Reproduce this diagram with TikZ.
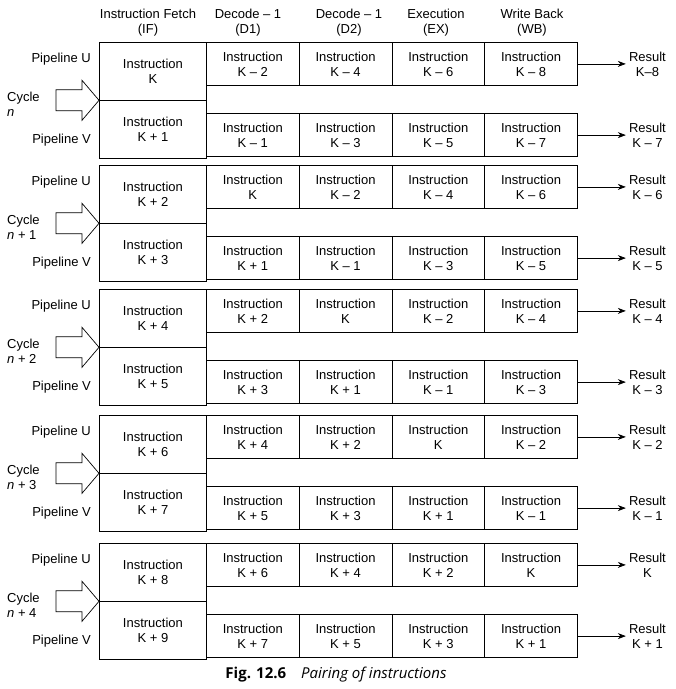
\documentclass[tikz,border=0pt]{standalone}
\usepackage{fontspec}
\setmainfont{Liberation Sans}
\newfontfamily\capfont{Open Sans}
\usetikzlibrary{arrows.meta, positioning}

\begin{document}
\begin{tikzpicture}[x=1pt, y=-1pt,
    cell/.style={draw, line width=0.8pt, minimum width=92.75pt, minimum height=43pt, inner sep=0pt, align=center, font=\fontsize{13}{15}\selectfont},
    fetch/.style={cell, minimum width=107pt, minimum height=57.5pt},
    lbl/.style={inner sep=0pt, align=center, font=\fontsize{13}{15}\selectfont},
    arrow/.style={-{Stealth[length=8pt, width=6pt]}, line width=0.7pt},
]
    \useasboundingbox (0,0) rectangle (676,689);

    % stage headings
    \foreach \x/\h [count=\j] in {148/{Instruction Fetch\\(IF)}, 248/{Decode -- 1\\(D1)}, 349/{Decode -- 1\\(D2)}, 436/{Execution\\(EX)}, 532/{Write Back\\(WB)}}
        \node[lbl] (h\j) at (\x,23) {\h};

    % one block per cycle
    \foreach \t/\cy/\fu/\fv/\ul/\vl/\ru/\rv [count=\i] in {
        42/{\textit{n}}/K/K + 1/{K -- 2,K -- 4,K -- 6,K -- 8}/{K -- 1,K -- 3,K -- 5,K -- 7}/K--8/K -- 7,
        165/{\textit{n} + 1}/K + 2/K + 3/{K,K -- 2,K -- 4,K -- 6}/{K + 1,K -- 1,K -- 3,K -- 5}/K -- 6/K -- 5,
        289/{\textit{n} + 2}/K + 4/K + 5/{K + 2,K,K -- 2,K -- 4}/{K + 3,K + 1,K -- 1,K -- 3}/K -- 4/K -- 3,
        415/{\textit{n} + 3}/K + 6/K + 7/{K + 4,K + 2,K,K -- 2}/{K + 5,K + 3,K + 1,K -- 1}/K -- 2/K -- 1,
        543/{\textit{n} + 4}/K + 8/K + 9/{K + 6,K + 4,K + 2,K}/{K + 7,K + 5,K + 3,K + 1}/K/K + 1}{
        \node[fetch, anchor=north west] (f\i u) at (99,\t) {Instruction\\\fu};
        \node[fetch, anchor=north west] (f\i v) at (f\i u.south west) {Instruction\\\fv};
        \foreach \s [count=\j] in \ul
            \node[cell, anchor=north west] (s\i u\j) at ({206+92.75*(\j-1)},\t) {Instruction\\\s};
        \foreach \s [count=\j] in \vl
            \node[cell, anchor=south west] (s\i v\j) at ({206+92.75*(\j-1)},\t+115) {Instruction\\\s};

        \node[lbl, anchor=east] (pu\i) at (91,\t+17) {Pipeline U};
        \node[lbl, anchor=east] (pv\i) at (91,\t+98) {Pipeline V};
        \node[lbl, anchor=west, align=left] (c\i) at (7,\t+62) {Cycle\\\cy};

        % big cycle arrow into the fetch stage
        \draw[line width=0.7pt] (f\i u.south west) -- ++(-17,-20) -- ++(0,9.5) -- ++(-26,0) -- ++(0,21)
            -- ++(26,0) -- ++(0,9.5) -- cycle;

        \node[lbl, inner sep=3pt, right=48pt of s\i u4] (r\i u) {Result\\\ru};
        \node[lbl, inner sep=3pt, right=48pt of s\i v4] (r\i v) {Result\\\rv};
        \draw[arrow] (s\i u4.east) -- (s\i u4.east -| r\i u.west);
        \draw[arrow] (s\i v4.east) -- (s\i v4.east -| r\i v.west);
    }

    \node[font=\capfont\fontsize{15}{17}\selectfont] (cap) at (336,675) {\textbf{Fig. 12.6}\quad\textit{Pairing of instructions}};
\end{tikzpicture}
\end{document}
